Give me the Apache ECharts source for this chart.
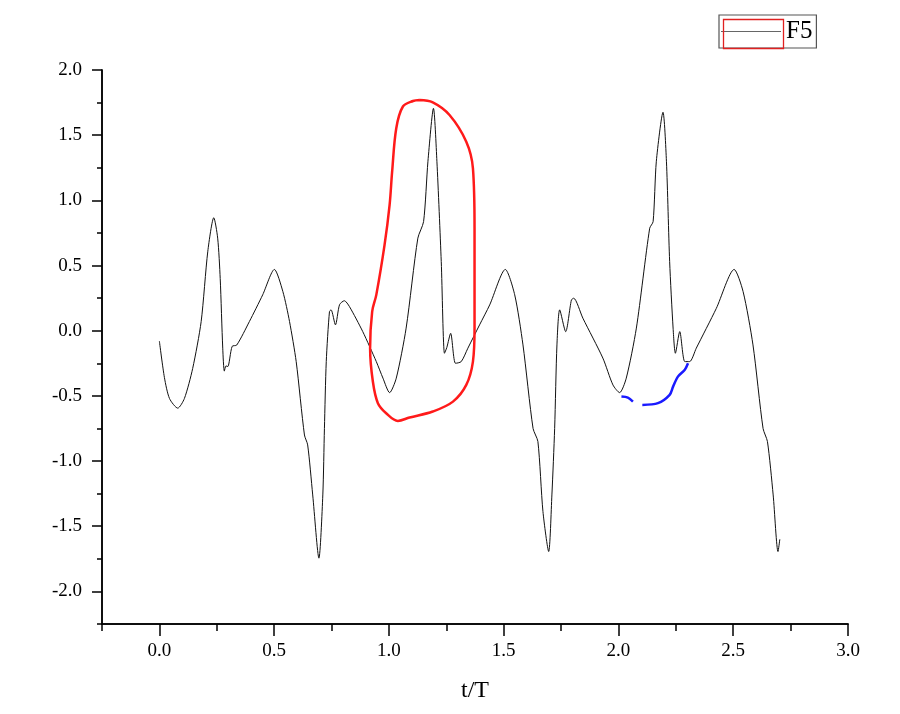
<!DOCTYPE html>
<html>
<head>
<meta charset="utf-8">
<script src="https://cdn.jsdelivr.net/npm/echarts@6/dist/echarts.min.js"></script>
<style>html,body{margin:0;padding:0;background:#fff;}#chart{width:900px;height:714px;}</style>
</head>
<body>
<div id="chart"></div>
<script>
// Series F5: time (t/T) and values
const tValues = [0.000,0.022,0.044,0.080,0.109,0.145,0.182,0.211,0.237,0.254,0.265,0.276,0.283,0.290,0.298,0.317,0.337,0.392,0.450,0.501,0.538,0.567,0.596,0.632,0.646,0.668,0.695,0.712,0.719,0.727,0.741,0.748,0.767,0.785,0.806,0.828,0.886,0.945,0.974,1.003,1.032,1.075,1.126,1.151,1.170,1.194,1.209,1.228,1.242,1.252,1.269,1.290,1.315,1.344,1.395,1.439,1.507,1.548,1.584,1.628,1.649,1.671,1.696,1.710,1.722,1.732,1.744,1.770,1.795,1.805,1.845,1.932,1.976,2.005,2.034,2.078,2.136,2.151,2.165,2.194,2.209,2.223,2.238,2.248,2.267,2.289,2.310,2.339,2.426,2.504,2.543,2.586,2.630,2.649,2.674,2.695,2.703];
const f5Values = [-0.08,-0.36,-0.52,-0.594,-0.52,-0.29,0.07,0.61,0.867,0.71,0.40,-0.134,-0.31,-0.27,-0.275,-0.12,-0.11,0.07,0.275,0.47,0.30,0.07,-0.237,-0.80,-0.876,-1.26,-1.745,-1.26,-0.75,-0.237,0.147,0.16,0.045,0.20,0.23,0.185,-0.007,-0.237,-0.364,-0.475,-0.364,0.02,0.71,0.837,1.30,1.706,1.30,0.53,-0.173,-0.13,-0.02,-0.25,-0.237,-0.134,0.045,0.198,0.47,0.275,-0.109,-0.75,-0.85,-1.387,-1.694,-1.26,-0.75,-0.109,0.16,-0.007,0.236,0.249,0.096,-0.21,-0.416,-0.475,-0.364,0.02,0.786,0.837,1.30,1.676,1.30,0.53,0.02,-0.173,-0.007,-0.237,-0.237,-0.134,0.17,0.47,0.30,-0.109,-0.75,-0.85,-1.26,-1.694,-1.60];

// Hand-drawn annotations (in data coordinates)
const redLoopT = [1.133,1.191,1.264,1.337,1.366,1.373,1.373,1.366,1.337,1.279,1.191,1.090,1.039,0.988,0.952,0.930,0.918,0.927,0.945,0.981,1.003,1.014,1.032,1.061,1.105,1.133];
const redLoopY = [1.77,1.752,1.655,1.45,1.246,0.786,0.02,-0.237,-0.416,-0.544,-0.62,-0.666,-0.692,-0.633,-0.556,-0.39,-0.134,0.147,0.275,0.658,0.965,1.22,1.553,1.72,1.762,1.77];
const blueMark1T = [2.013,2.041,2.063];
const blueMark1Y = [-0.505,-0.513,-0.544];
const blueMark2T = [2.104,2.172,2.223,2.238,2.259,2.289,2.303];
const blueMark2Y = [-0.569,-0.556,-0.492,-0.429,-0.352,-0.30,-0.25];

// Axis ticks
const xMajorTicks = [0.0,0.5,1.0,1.5,2.0,2.5,3.0];
const xMinorTicks = [-0.25,0.25,0.75,1.25,1.75,2.25,2.75];
const yMajorTicks = [-2.0,-1.5,-1.0,-0.5,0.0,0.5,1.0,1.5,2.0];
const yMinorTicks = [-2.25,-1.75,-1.25,-0.75,-0.25,0.25,0.75,1.25,1.75];

const zip = (a, b) => a.map((v, i) => [v, b[i]]);
const FONT = 'Liberation Serif';

const chart = echarts.init(document.getElementById('chart'), null, {renderer: 'canvas'});
const axisCommon = {
  type: 'value',
  splitLine: {show: false},
  axisLine: {show: true, onZero: false, lineStyle: {color: '#000', width: 1.5}},
};
chart.setOption({
  backgroundColor: '#fff',
  animation: false,
  grid: {left: 102, right: 52, top: 70, bottom: 90, containLabel: false},
  legend: {
    data: [{name: 'F5', icon: 'path://M0,0H60V1H0Z'}],
    left: 719, top: 15,
    padding: [4, 4, 4, 2],
    itemWidth: 60, itemHeight: 29, itemGap: 0,
    borderColor: '#555', borderWidth: 1.2,
    itemStyle: {color: '#666'},
    textStyle: {fontFamily: FONT, fontSize: 25, color: '#000'},
    selectedMode: false
  },
  graphic: [{
    type: 'rect', left: 721, top: 17, z: 100,
    shape: {width: 60, height: 29},
    style: {fill: 'none', stroke: '#e02020', lineWidth: 1.3}
  }],
  xAxis: [
    Object.assign({}, axisCommon, {
      min: -0.25, max: 3.0, position: 'bottom',
      name: 't/T', nameLocation: 'middle', nameGap: 55,
      nameTextStyle: {fontFamily: FONT, fontSize: 24, color: '#000'},
      axisTick: {show: true, length: 12, lineStyle: {color: '#000', width: 1.5}, customValues: xMajorTicks},
      axisLabel: {show: true, margin: 18, fontFamily: FONT, fontSize: 19, color: '#000', customValues: xMajorTicks, formatter: v => v.toFixed(1)}
    }),
    Object.assign({}, axisCommon, {
      min: -0.25, max: 3.0, position: 'bottom',
      axisTick: {show: true, length: 7, lineStyle: {color: '#000', width: 1.5}, customValues: xMinorTicks},
      axisLabel: {show: false}
    })
  ],
  yAxis: [
    Object.assign({}, axisCommon, {
      min: -2.25, max: 2.0, position: 'left',
      axisTick: {show: true, length: 10, lineStyle: {color: '#000', width: 1.5}, customValues: yMajorTicks},
      axisLabel: {show: true, margin: 20, fontFamily: FONT, fontSize: 19, color: '#000', customValues: yMajorTicks, formatter: v => v.toFixed(1)}
    }),
    Object.assign({}, axisCommon, {
      min: -2.25, max: 2.0, position: 'left',
      axisTick: {show: true, length: 5, lineStyle: {color: '#000', width: 1.5}, customValues: yMinorTicks},
      axisLabel: {show: false}
    })
  ],
  series: [
    {
      name: 'F5', type: 'line', xAxisIndex: 0, yAxisIndex: 0,
      data: zip(tValues, f5Values),
      showSymbol: false, symbol: 'none', smooth: 0.25,
      lineStyle: {color: '#111', width: 1}, itemStyle: {color: '#111'}
    },
    {
      name: 'annotRed', type: 'line', data: zip(redLoopT, redLoopY),
      showSymbol: false, symbol: 'none', smooth: 0.35, z: 5,
      lineStyle: {color: '#ff1a1a', width: 2.5}
    },
    {
      name: 'annotBlue1', type: 'line', data: zip(blueMark1T, blueMark1Y),
      showSymbol: false, symbol: 'none', smooth: 0.3, z: 5,
      lineStyle: {color: '#1a1aff', width: 2.5}
    },
    {
      name: 'annotBlue2', type: 'line', data: zip(blueMark2T, blueMark2Y),
      showSymbol: false, symbol: 'none', smooth: 0.3, z: 5,
      lineStyle: {color: '#1a1aff', width: 2.5}
    }
  ]
});
</script>
</body>
</html>
